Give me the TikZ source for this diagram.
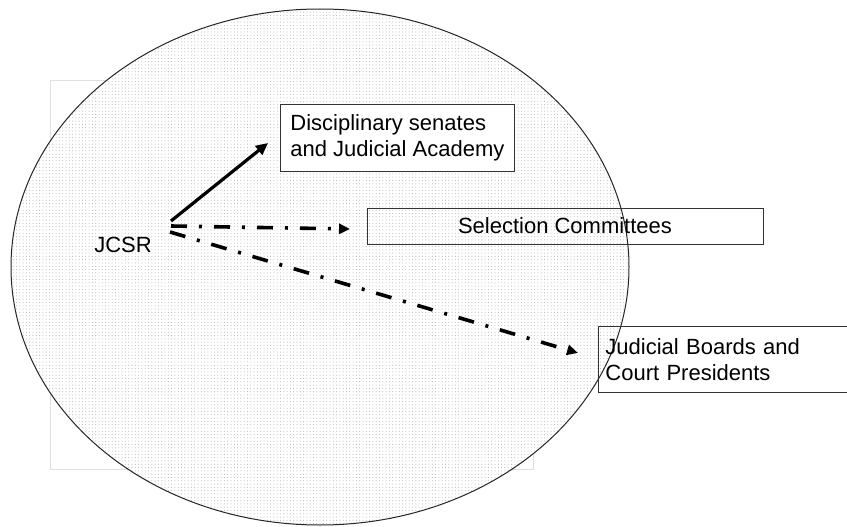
\documentclass[tikz,border=0pt]{standalone}
\usepackage{fontspec}
\setmainfont{Liberation Sans}
\usetikzlibrary{arrows.meta,patterns.meta}
\begin{document}
\begin{tikzpicture}[x=1pt,y=-1pt,
  box/.style={draw=black!80, line width=0.9pt, font=\fontsize{22}{26}\selectfont},
  solidarrow/.style={line width=3.2pt, -{Triangle[length=12pt,width=11pt]}},
  dasharrow/.style={line width=3.6pt, dash pattern=on 16pt off 12pt on 3pt off 12pt, -{Triangle[length=11pt,width=10pt]}}]
\useasboundingbox (0,0) rectangle (847,527);
% faint background frame
\draw[black!12, line width=1pt] (50,81) rectangle (533,469);
% ellipse
\coordinate (c) at (320,267);
\fill[white] (c) ellipse [x radius=309pt, y radius=258pt];
\fill[pattern={Dots[radius=0.5pt,distance=3.3pt]}, pattern color=black!30] (c) ellipse [x radius=309pt, y radius=258pt];
\draw[black!85, line width=1pt] (c) ellipse [x radius=309pt, y radius=258pt];
% nodes
\node[box, fill=white, anchor=north west, minimum width=234pt, minimum height=67pt, inner xsep=9pt, align=left] (disc) at (280,104) {Disciplinary senates\\and Judicial Academy};
\node[box, minimum width=396pt, minimum height=36pt] (sel) at (565,226) {Selection Committees};
\node[box, anchor=north west, minimum width=272pt, minimum height=66pt, text width=258pt, inner xsep=7pt, align=left] (jud) at (598,326) {Judicial Boards and\\Court Presidents};
\node[font=\fontsize{22}{26}\selectfont, inner sep=0pt] (jcsr) at (123,245) {JCSR};
% connectors
\coordinate (s1) at (171,221);
\coordinate (e1) at (268,143);
\coordinate (s2) at (171,226);
\coordinate (e2) at (350,229);
\coordinate (s3) at (170,232);
\coordinate (e3) at (578,353);
\draw[solidarrow] (s1) -- (e1);
\draw[dasharrow] (s2) -- (e2);
\draw[dasharrow] (s3) -- (e3);
\end{tikzpicture}
\end{document}
